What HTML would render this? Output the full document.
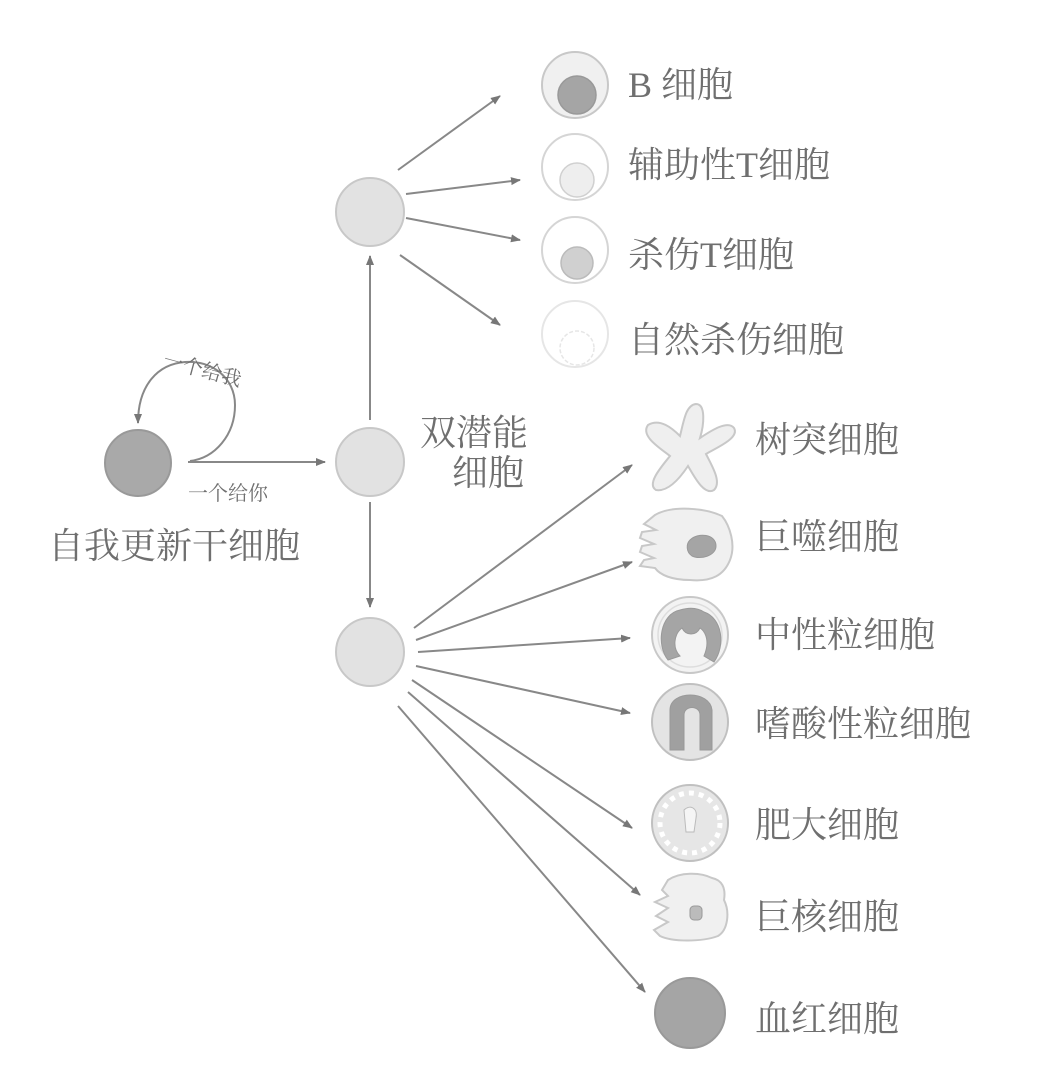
<!DOCTYPE html>
<html><head><meta charset="utf-8"><style>
html,body{margin:0;padding:0;background:#fff;}
svg{display:block;}
text{font-family:"Liberation Serif","Noto Serif CJK SC","Noto Sans CJK SC",serif;fill:#6f6f6f;}
</style></head><body>
<svg width="1040" height="1078" viewBox="0 0 1040 1078" xmlns="http://www.w3.org/2000/svg">
<defs>
<marker id="a" markerWidth="10" markerHeight="10" refX="9" refY="5" orient="auto" markerUnits="userSpaceOnUse">
<path d="M0,1 L10,5 L0,9 Z" fill="#777"/></marker>
</defs>
<g stroke="#888" stroke-width="2" fill="none" marker-end="url(#a)">
<path d="M190,461 C215,458 235,435 235,405 C235,378 212,360 185,362 C158,364 138,385 138,423"/>
<line x1="188" y1="462" x2="325" y2="462"/>
<line x1="370" y1="420" x2="370" y2="256"/>
<line x1="370" y1="502" x2="370" y2="607"/>
<line x1="398" y1="170" x2="500" y2="96"/>
<line x1="406" y1="194" x2="520" y2="180"/>
<line x1="406" y1="218" x2="520" y2="240"/>
<line x1="400" y1="255" x2="500" y2="325"/>
<line x1="414" y1="628" x2="632" y2="465"/>
<line x1="416" y1="640" x2="632" y2="562"/>
<line x1="418" y1="652" x2="630" y2="638"/>
<line x1="416" y1="666" x2="630" y2="713"/>
<line x1="412" y1="680" x2="632" y2="828"/>
<line x1="408" y1="692" x2="640" y2="895"/>
<line x1="398" y1="706" x2="645" y2="992"/>
</g>
<circle cx="138" cy="463" r="33" fill="#a9a9a9" stroke="#999" stroke-width="2"/>
<circle cx="370" cy="212" r="34" fill="#e2e2e2" stroke="#c8c8c8" stroke-width="2"/>
<circle cx="370" cy="462" r="34" fill="#e2e2e2" stroke="#c8c8c8" stroke-width="2"/>
<circle cx="370" cy="652" r="34" fill="#e2e2e2" stroke="#c8c8c8" stroke-width="2"/>
<circle cx="575" cy="85" r="33" fill="#f0f0f0" stroke="#c8c8c8" stroke-width="2"/>
<circle cx="577" cy="95" r="19" fill="#a5a5a5" stroke="#999" stroke-width="1.5"/>
<circle cx="575" cy="167" r="33" fill="#fff" stroke="#d5d5d5" stroke-width="2"/>
<circle cx="577" cy="180" r="17" fill="#eee" stroke="#d0d0d0" stroke-width="1.5"/>
<circle cx="575" cy="250" r="33" fill="#fff" stroke="#d5d5d5" stroke-width="2"/>
<circle cx="577" cy="263" r="16" fill="#d0d0d0" stroke="#bbb" stroke-width="1.5"/>
<circle cx="575" cy="334" r="33" fill="#fff" stroke="#e6e6e6" stroke-width="2"/>
<circle cx="577" cy="348" r="17" fill="#fff" stroke="#e6e6e6" stroke-width="1.5" stroke-dasharray="4 2"/>
<path d="M648,425 C660,418 672,428 680,436 C684,420 686,405 696,404 C706,404 704,425 700,438 C712,430 728,420 734,428 C740,438 716,448 706,454 C712,466 722,482 714,490 C704,496 694,476 688,466 C680,478 668,492 656,490 C646,484 662,466 670,456 C660,448 640,436 648,425 Z" fill="#efefef" stroke="#c8c8c8" stroke-width="2"/>
<path d="M655,515 C672,505 705,508 722,516 C730,526 736,545 730,560 C724,575 712,582 690,580 C672,580 660,575 655,568 L640,566 L644,560 L654,558 L640,552 L642,546 L654,544 L640,538 L642,532 L656,530 L644,524 Z" fill="#f0f0f0" stroke="#c8c8c8" stroke-width="2"/>
<path d="M690,540 C698,532 716,534 716,546 C716,556 700,560 692,556 C686,552 686,544 690,540 Z" fill="#a5a5a5" stroke="#999"/>
<circle cx="690" cy="635" r="38" fill="#f3f3f3" stroke="#c8c8c8" stroke-width="2"/>
<circle cx="690" cy="635" r="32" fill="none" stroke="#ddd" stroke-width="1.5"/>
<path d="M668,660 C656,645 660,614 680,610 C690,607 698,608 704,612 C722,618 726,645 714,662 L704,656 C710,642 706,632 700,628 C696,636 686,636 682,628 C674,634 672,648 680,656 Z" fill="#a5a5a5" stroke="#999"/>
<circle cx="690" cy="722" r="38" fill="#e4e4e4" stroke="#c0c0c0" stroke-width="2"/>
<path d="M670,750 L670,710 C670,690 710,690 712,710 L712,750 L700,750 L700,715 C700,705 684,705 684,715 L684,750 Z" fill="#a0a0a0" stroke="#999"/>
<circle cx="690" cy="823" r="38" fill="#e6e6e6" stroke="#c0c0c0" stroke-width="2"/>
<circle cx="690" cy="823" r="30" fill="none" stroke="#fff" stroke-width="5" stroke-dasharray="5 5"/>
<path d="M684,810 C690,804 698,808 696,818 L694,832 L686,832 Z" fill="#f5f5f5" stroke="#bbb"/>
<path d="M662,890 L668,880 C680,872 700,872 712,878 C722,880 726,888 724,900 C730,912 728,930 718,936 C702,942 672,942 660,936 L654,930 L668,922 L656,916 L668,908 L655,902 L668,896 Z" fill="#f0f0f0" stroke="#c8c8c8" stroke-width="2"/>
<rect x="690" y="906" width="12" height="14" rx="4" fill="#bbb" stroke="#999"/>
<circle cx="690" cy="1013" r="35" fill="#a5a5a5" stroke="#999" stroke-width="2"/>
<g font-size="36">
<text x="628" y="97">B 细胞</text>
<text x="628" y="177">辅助性T细胞</text>
<text x="628" y="267">杀伤T细胞</text>
<text x="628" y="352">自然杀伤细胞</text>
<text x="755" y="452">树突细胞</text>
<text x="755" y="549">巨噬细胞</text>
<text x="755" y="647">中性粒细胞</text>
<text x="755" y="736">嗜酸性粒细胞</text>
<text x="755" y="837">肥大细胞</text>
<text x="755" y="929">巨核细胞</text>
<text x="755" y="1031">血红细胞</text>
<text x="420" y="445">双潜能</text>
<text x="452" y="485">细胞</text>
<text x="48" y="558">自我更新干细胞</text>
</g>
<text x="188" y="500" font-size="20">一个给你</text>
<text x="0" y="0" font-size="20" transform="translate(162,366) rotate(15)">一个给我</text>
</svg>
</body></html>
